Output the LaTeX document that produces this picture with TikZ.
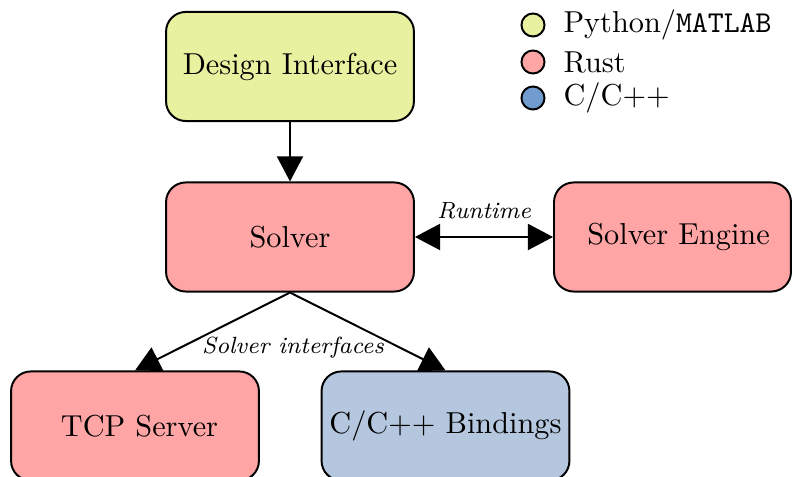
\documentclass[tikz,border=0pt]{standalone}
\usetikzlibrary{arrows.meta,calc}
\definecolor{pyc}{RGB}{232,241,160}
\definecolor{rsc}{RGB}{255,165,165}
\definecolor{cbox}{RGB}{181,199,222}
\definecolor{ccirc}{RGB}{112,156,207}
\tikzset{
  block/.style={draw=black, line width=0.65pt, rounded corners=6.5pt, minimum width=81.8pt, minimum height=36pt, align=center, inner sep=2pt},
  conn/.style={line width=0.65pt, -{Triangle[length=8.3pt,width=8.6pt]}},
  biconn/.style={line width=0.65pt, {Triangle[length=8.3pt,width=8.6pt]}-{Triangle[length=8.3pt,width=8.6pt]}},
  lbl/.style={font=\fontsize{7.75}{9.5}\selectfont\itshape, inner sep=1pt},
  legdot/.style={circle, draw=black, line width=0.65pt, minimum size=7.6pt, inner sep=0pt},
  legtxt/.style={anchor=west, inner sep=0pt}
}
\begin{document}
\begin{tikzpicture}[x=0.33pt,y=-0.33pt]
\useasboundingbox (0,0) rectangle (792,477);
\node[block, fill=pyc] (design) at (290,66.5) {Design Interface};
\node[block, fill=rsc] (solver) at (290,237) {Solver};
\node[block, fill=rsc, minimum width=78.2pt] (engine) at (672.5,237) {\hspace*{4pt}Solver Engine};
\node[block, fill=rsc] (tcp) at (135,426) {\hspace*{3pt}TCP Server};
\node[block, fill=cbox] (bind) at (445.5,426) {C/C++ Bindings};

\draw[conn] (design.south) -- (solver.north);
\draw[biconn] (solver.east) -- node[lbl, above, yshift=4.5pt] (rt) {Runtime} (engine.west);
\draw[conn] (solver.south) -- (tcp.north);
\draw[conn] (solver.south) -- (bind.north);
\node[lbl] (si) at (293,348) {Solver interfaces};

\node[legdot, fill=pyc] (l1) at (533,25) {};
\node[legdot, fill=rsc] (l2) at (533,62) {};
\node[legdot, fill=ccirc] (l3) at (533,98) {};
\node[legtxt] (t1) at (563,25) {Python/\texttt{MATLAB}};
\node[legtxt] (t2) at (563,62) {Rust};
\node[legtxt] (t3) at (563,98) {C/C++};
\end{tikzpicture}
\end{document}
